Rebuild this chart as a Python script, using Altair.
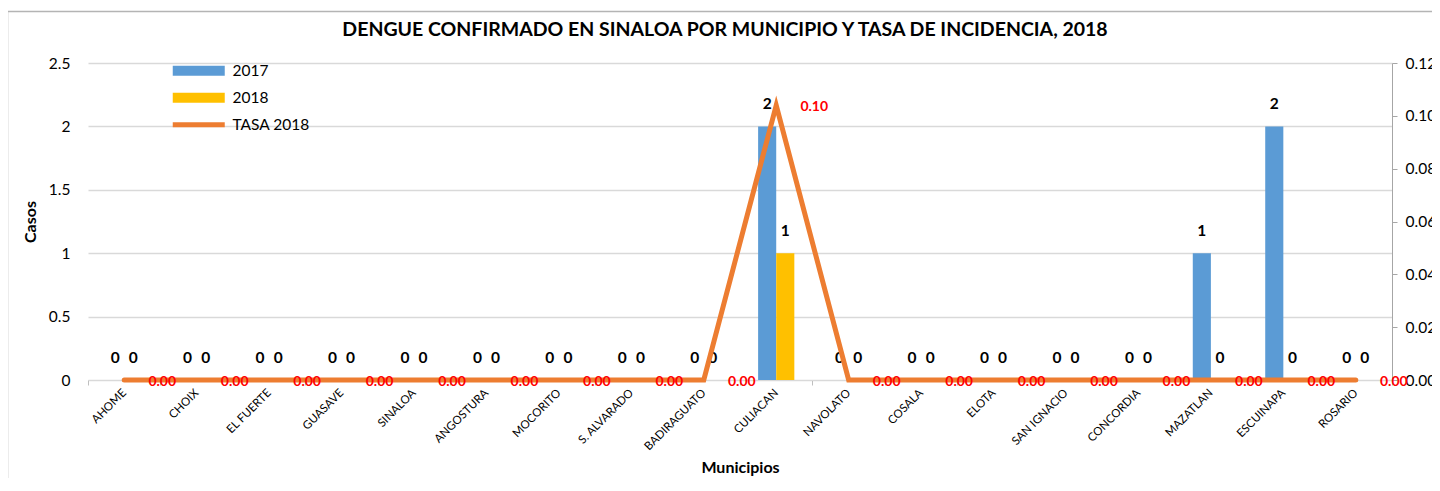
import altair as alt
import pandas as pd

FONT = "Lato"
TITLE = "DENGUE CONFIRMADO EN SINALOA POR MUNICIPIO Y TASA DE INCIDENCIA, 2018"

municipios = ["AHOME", "CHOIX", "EL FUERTE", "GUASAVE", "SINALOA", "ANGOSTURA",
              "MOCORITO", "S. ALVARADO", "BADIRAGUATO", "CULIACAN", "NAVOLATO",
              "COSALA", "ELOTA", "SAN IGNACIO", "CONCORDIA", "MAZATLAN",
              "ESCUINAPA", "ROSARIO"]
casos_2017 = [0, 0, 0, 0, 0, 0, 0, 0, 0, 2, 0, 0, 0, 0, 0, 1, 2, 0]
casos_2018 = [0, 0, 0, 0, 0, 0, 0, 0, 0, 1, 0, 0, 0, 0, 0, 0, 0, 0]
tasa_2018 = [0, 0, 0, 0, 0, 0, 0, 0, 0, 0.104, 0, 0, 0, 0, 0, 0, 0, 0]
series_barras = ["2017", "2018"]
colores_barras = ["#5B9BD5", "#FFC000"]
serie_linea = "TASA 2018"
color_linea = "#ED7D31"
ticks_casos = [0, 0.5, 1, 1.5, 2, 2.5]
ticks_tasa = [0, 0.02, 0.04, 0.06, 0.08, 0.10, 0.12]

bars_df = pd.DataFrame({
    "Municipio": municipios * 2,
    "Serie": [series_barras[0]] * len(municipios) + [series_barras[1]] * len(municipios),
    "Casos": casos_2017 + casos_2018,
})
tasa_df = pd.DataFrame({
    "Municipio": municipios,
    "Serie": [serie_linea] * len(municipios),
    "Tasa": tasa_2018,
})

x_enc = alt.X(
    "Municipio:N", sort=municipios,
    scale=alt.Scale(paddingInner=0, paddingOuter=0),
    axis=alt.Axis(
        title="Municipios", labelAngle=-45, labelAlign="right", labelBaseline="middle",
        labelFontSize=11.5, labelPadding=6, labelColor="#000000", labelFont=FONT,
        ticks=True, tickBand="extent", tickSize=5, tickColor="#BFBFBF",
        domainColor="#D9D9D9", grid=False,
        titleFontSize=16, titleFontWeight="bold", titleFont=FONT, titleColor="#000000",
        titleY=87, titleBaseline="middle",
    ),
)
x_plain = alt.X("Municipio:N", sort=municipios)

y_casos = alt.Y(
    "Casos:Q", scale=alt.Scale(domain=[0, 2.5], nice=False),
    axis=alt.Axis(
        title="Casos", values=ticks_casos, format="~g", domain=False, ticks=False,
        tickSize=0, labelPadding=18, labelFontSize=15.5, labelFont=FONT, labelColor="#000000",
        grid=True, gridColor="#D9D9D9", gridWidth=1.5,
        titleFontSize=16, titleFontWeight="bold", titleFont=FONT, titleColor="#000000",
        titleX=-58, titleY=158.5, titleAngle=-90, titleBaseline="middle", titleAlign="center",
    ),
)
y_tasa = alt.Y(
    "Tasa:Q", scale=alt.Scale(domain=[0, 0.12], nice=False),
    axis=alt.Axis(
        orient="right", title=None, values=ticks_tasa, format=".2f", grid=False,
        domainColor="#A6A6A6", tickColor="#A6A6A6", tickSize=5, labelPadding=8,
        labelFontSize=15.5, labelFont=FONT, labelColor="#000000",
    ),
)

xoff = alt.XOffset("Serie:N", sort=series_barras,
                   scale=alt.Scale(paddingOuter=1, paddingInner=0))

bars = alt.Chart(bars_df).mark_bar().encode(
    x=x_enc,
    xOffset=xoff,
    y=y_casos,
    color=alt.Color(
        "Serie:N",
        scale=alt.Scale(domain=series_barras, range=colores_barras),
        legend=alt.Legend(
            title=None, orient="none", legendX=82, legendY=0,
            symbolType="M-1,-1H9.4V1H-1Z", symbolSize=100, symbolStrokeWidth=0,
            symbolOpacity=1, labelOffset=47, labelFontSize=15.5, labelFont=FONT,
            labelColor="#000000", rowPadding=10,
        ),
    ),
)
bar_text = alt.Chart(bars_df).mark_text(
    dy=-22, fontSize=15.5, fontWeight="bold", font=FONT, color="#000000", baseline="middle"
).encode(
    x=x_plain, xOffset=xoff,
    y=alt.Y("Casos:Q"),
    text=alt.Text("Casos:Q", format="d"),
)

line = alt.Chart(tasa_df).mark_line(strokeWidth=5, strokeCap="round").encode(
    x=x_plain,
    y=y_tasa,
    stroke=alt.Stroke(
        "Serie:N",
        scale=alt.Scale(domain=[serie_linea], range=[color_linea]),
        legend=alt.Legend(
            title=None, orient="none", legendX=82, legendY=54,
            symbolType="M-1,0H9.4", symbolSize=100, symbolStrokeWidth=5,
            labelOffset=47, labelFontSize=15.5, labelFont=FONT, labelColor="#000000",
        ),
    ),
)
line_text = alt.Chart(tasa_df).mark_text(
    dx=38, dy=2, fontSize=14, fontWeight="bold", font=FONT, color="#FF0000", baseline="middle"
).encode(
    x=x_plain,
    y=alt.Y("Tasa:Q"),
    text=alt.Text("Tasa:Q", format=".2f"),
)

border = alt.Chart(pd.DataFrame({"k": [0]})).mark_rect(
    fill="transparent", stroke="#B4B4B4", strokeWidth=1.5
).encode(
    x=alt.value(-80.5), x2=alt.value(1600), y=alt.value(-51.5), y2=alt.value(700)
)
title = alt.Chart(pd.DataFrame({"t": [TITLE]})).mark_text(
    fontSize=19.5, fontWeight="bold", font=FONT, color="#000000", align="center", baseline="middle"
).encode(
    x=alt.value(637), y=alt.value(-33), text="t:N"
)

chart = alt.layer(
    border, title,
    alt.layer(bars, bar_text),
    alt.layer(line, line_text),
).resolve_scale(y="independent").properties(
    width=1304, height=317,
    padding={"left": 80, "top": 55, "right": 40, "bottom": 98},
    autosize=alt.AutoSizeParams(type="none"),
    background="white",
).configure_view(stroke="transparent")

chart.save("out.html", embed_options={"renderer": "svg", "actions": False})
